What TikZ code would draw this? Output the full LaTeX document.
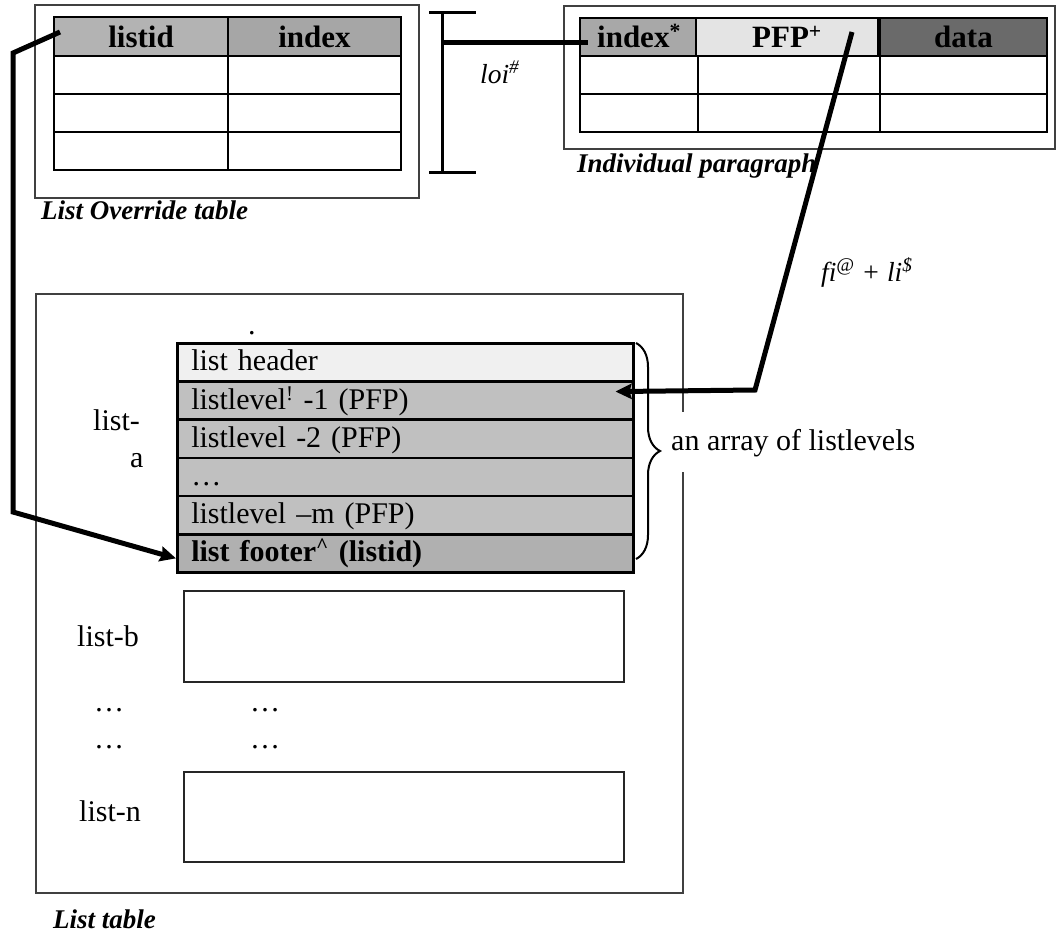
\documentclass[tikz,border=0pt]{standalone}
\usepackage{fontspec}
\setmainfont{Liberation Serif}
\usetikzlibrary{arrows.meta,decorations.pathreplacing,calc}
\definecolor{oA}{HTML}{B3B3B3}
\definecolor{oB}{HTML}{A6A6A6}
\definecolor{pA}{HTML}{A8A8A8}
\definecolor{pB}{HTML}{E4E4E4}
\definecolor{pC}{HTML}{6A6A6A}
\definecolor{sHdr}{HTML}{F0F0F0}
\definecolor{sLvl}{HTML}{C0C0C0}
\definecolor{sFtr}{HTML}{B0B0B0}
\begin{document}
\begin{tikzpicture}[x=1pt,y=-1pt,
  every node/.style={font=\fontsize{30}{36}\selectfont},
  frame/.style={draw=black!75,line width=1.8pt},
  grid/.style={draw=black,line width=2.5pt},
  hcell/.style={grid,minimum height=39pt,inner sep=0pt,text height=22pt,text depth=1pt,font=\fontsize{31}{36}\selectfont\bfseries},
  srow/.style={draw=black,line width=2.5pt,minimum height=38.2pt,text width=428pt,inner xsep=14pt,inner ysep=0pt,align=left,text height=20pt,text depth=3pt,anchor=north west},
  lbox/.style={draw=black!85,line width=2pt},
  conn/.style={line width=5pt},
  harrow/.style={-{Stealth[length=16pt,width=15pt,inset=2pt]}},
  tcaption/.style={font=\fontsize{27}{30}\selectfont\bfseries\itshape,anchor=base west,inner sep=0pt},
  ilabel/.style={font=\fontsize{27.5}{30}\selectfont\itshape,anchor=base west,inner sep=0pt},
  plain/.style={anchor=base west,inner sep=0pt}
]
\useasboundingbox (0,0) rectangle (1057,932);

% frames
\draw[frame] (35,5) rectangle (419,198);
\draw[frame] (564,6) rectangle (1055,149);
\draw[frame] (36,294) rectangle (683,893);

% List Override table
\node[hcell,fill=oA,minimum width=174pt] (olid) at (141,36.5) {listid};
\node[hcell,fill=oB,minimum width=173pt] (oidx) at (314.5,36.5) {index};
\draw[grid] (54,56) rectangle (401,170);
\draw[grid] (54,94) -- (401,94) (54,132) -- (401,132) (228,56) -- (228,170);
\node[tcaption] (ocap) at (41,219) {List Override table};

% Individual paragraph table
\node[hcell,fill=pA,minimum width=118pt,minimum height=38pt] (pidx) at (639,37) {index\textsuperscript{*}};
\node[hcell,fill=pB,minimum width=182pt,minimum height=38pt] (ppfp) at (787,37) {PFP\textsuperscript{+}};
\node[hcell,fill=pC,minimum width=167pt,minimum height=38pt] (pdata) at (963.5,37) {data};
\draw[grid] (580,56) rectangle (1047,132);
\draw[grid] (580,94) -- (1047,94) (698,56) -- (698,132) (880,56) -- (880,132);
\node[tcaption] (pcap) at (577,172) {Individual paragraph};

% loi bracket
\draw[line width=3pt] (429,12) -- (476,12) (442,12) -- (442,172) (429,172) -- (476,172);
\node[ilabel] (loi) at (480,83) {loi\textsuperscript{\#}};

% list stack
\node[plain] (dot) at (248,334) {.};
\node[srow,fill=sHdr] (r0) at (176,342) {list header};
\node[srow,fill=sLvl] (r1) at (176,380.2) {listlevel\textsuperscript{!} -1 (PFP)};
\node[srow,fill=sLvl] (r2) at (176,418.4) {listlevel -2 (PFP)};
\node[srow,fill=sLvl] (r3) at (176,456.6) {…};
\node[srow,fill=sLvl] (r4) at (176,494.8) {listlevel –m (PFP)};
\node[srow,fill=sFtr,font=\fontsize{30}{36}\selectfont\bfseries] (r5) at (176,533) {list footer\textsuperscript{\textasciicircum} (listid)};

\draw[decorate,decoration={brace,amplitude=24pt},line width=2pt] (636,343) -- (636,559);
\node[anchor=west,fill=white,inner xsep=3pt,inner ysep=0pt,minimum height=60pt,text height=20pt,text depth=3pt] (arr) at (668,442) {an array of listlevels};

\node[plain] (la1) at (93,430) {list-};
\node[plain] (la2) at (130,467) {a};

% other lists
\draw[lbox] (184,591) rectangle (624,682);
\draw[lbox] (184,772) rectangle (624,862);
\node[plain] (lb) at (77,646) {list-b};
\node[plain] (d1) at (94,711) {…};
\node[plain] (d2) at (250,711) {…};
\node[plain] (d3) at (94,748) {…};
\node[plain] (d4) at (250,748) {…};
\node[plain] (ln) at (79,821) {list-n};
\node[tcaption] (lcap) at (53,928) {List table};

\node[ilabel] (fili) at (821,281) {fi\textsuperscript{@} + li\textsuperscript{\$}};

% connectors
\coordinate (brk) at (442,42);
\coordinate (pidxin) at (588,42);
\draw[conn] (brk) -- (pidxin);

\coordinate (lidin) at (60,32);
\coordinate (ftin) at ($(r5.west)+(0,5)$);
\draw[conn,harrow] (lidin) -- (13,53) -- (13,512) -- (ftin);

\coordinate (pfpin) at (852,32);
\coordinate (ll1in) at ($(r1.east)+(-19,-9)$);
\draw[conn,harrow] (pfpin) -- (755,390) -- (ll1in);
\end{tikzpicture}
\end{document}
